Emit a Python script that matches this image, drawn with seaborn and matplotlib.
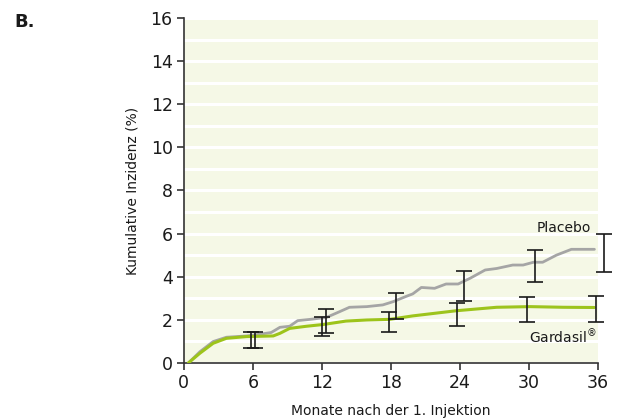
import matplotlib
matplotlib.use("Agg")
import matplotlib.pyplot as plt
import seaborn as sns
import pandas as pd
from matplotlib.ticker import MultipleLocator

# ---- data ----
placebo_x = [0.4, 1.4, 2.55, 3.7, 5.45, 6.6, 7.6, 8.35, 9.2, 9.9, 11.0, 12.4, 13.56, 14.4, 15.9,
             17.3, 18.2, 19.4, 19.9, 20.65, 21.8, 22.8, 23.85, 24.87, 26.2, 27.2, 28.6, 29.5,
             30.4, 31.2, 32.4, 33.7, 35.7]
placebo_y = [0.0, 0.52, 0.99, 1.19, 1.25, 1.33, 1.41, 1.65, 1.70, 1.96, 2.02, 2.11, 2.38, 2.58, 2.61,
             2.69, 2.84, 3.10, 3.20, 3.50, 3.46, 3.66, 3.66, 3.92, 4.31, 4.38, 4.54, 4.54,
             4.67, 4.67, 5.00, 5.27, 5.27]
gardasil_x = [0.4, 1.4, 2.55, 3.7, 5.45, 7.77, 8.35, 9.2, 10.67, 12.1, 14.1, 15.9, 17.9, 19.9,
              23.7, 27.2, 30.1, 33.0, 35.7]
gardasil_y = [0.0, 0.45, 0.91, 1.14, 1.22, 1.25, 1.37, 1.60, 1.70, 1.78, 1.94, 1.99, 2.02, 2.18,
              2.42, 2.58, 2.61, 2.58, 2.57]

gard_err_x = [5.8, 12.03, 17.85, 23.77, 29.88, 35.88]
gard_err_lo = [0.68, 1.25, 1.41, 1.69, 1.92, 1.89]
gard_err_hi = [1.45, 2.15, 2.38, 2.76, 3.08, 3.11]
plac_err_x = [6.17, 12.4, 18.43, 24.38, 30.52, 36.52]
plac_err_lo = [0.70, 1.40, 2.04, 2.89, 3.74, 4.24]
plac_err_hi = [1.45, 2.50, 3.26, 4.28, 5.24, 5.98]

x_ticks = [0, 6, 12, 18, 24, 30, 36]
y_ticks = [0, 2, 4, 6, 8, 10, 12, 14, 16]

# ---- plot ----
sns.set_style("ticks")
plt.rcParams['font.family'] = ['DejaVu Sans']

fig = plt.figure(figsize=(6.34, 4.2), dpi=100)
ax = fig.add_axes([0.290, 0.136, 0.653, 0.821])
ax.set_facecolor("#F5F8E6")

df_p = pd.DataFrame({"x": placebo_x, "y": placebo_y})
df_g = pd.DataFrame({"x": gardasil_x, "y": gardasil_y})
sns.lineplot(data=df_p, x="x", y="y", ax=ax, color="#A5A5A5", linewidth=2.0, zorder=3)
sns.lineplot(data=df_g, x="x", y="y", ax=ax, color="#9DC41B", linewidth=2.2, zorder=4)

def draw_err(xs, lo, hi):
    mid = [(a + b) / 2 for a, b in zip(lo, hi)]
    err = [[m - a for m, a in zip(mid, lo)], [b - m for m, b in zip(mid, hi)]]
    ax.errorbar(xs, mid, yerr=err, fmt="none", ecolor="#1a1a1a", elinewidth=1.2,
                capsize=5.5, capthick=1.2, zorder=5, clip_on=False)

draw_err(gard_err_x, gard_err_lo, gard_err_hi)
draw_err(plac_err_x, plac_err_lo, plac_err_hi)

ax.set_xlim(0, 36)
ax.set_ylim(0, 16)
ax.set_xticks(x_ticks)
ax.set_yticks(y_ticks)
ax.yaxis.set_minor_locator(MultipleLocator(1))
ax.tick_params(axis="y", which="minor", length=0)
ax.grid(True, axis="y", which="both", color="white", linewidth=2.2)
ax.set_axisbelow(True)

for s in ["top", "right"]:
    ax.spines[s].set_visible(False)
for s in ["left", "bottom"]:
    ax.spines[s].set_color("#333333")
    ax.spines[s].set_linewidth(1.2)
ax.tick_params(axis="both", which="major", length=5, width=1.2, color="#333333",
               labelsize=12.5, labelcolor="#1a1a1a", pad=3)

ax.set_xlabel("Monate nach der 1. Injektion", fontsize=10, color="#1a1a1a", labelpad=9)
ax.set_ylabel("Kumulative Inzidenz (%)", fontsize=10, color="#1a1a1a", labelpad=8)

ax.text(35.4, 6.25, "Placebo", fontsize=10, ha="right", va="center", color="#1a1a1a")
ax.text(35.9, 1.22, r"Gardasil$^{\circledR}$", fontsize=10, ha="right", va="center",
        color="#1a1a1a")

fig.text(14 / 634, 1 - 22 / 420, "B.", fontsize=13, fontweight="bold", ha="left", va="center",
         color="#1a1a1a")

fig.savefig("out.png", dpi=100)
